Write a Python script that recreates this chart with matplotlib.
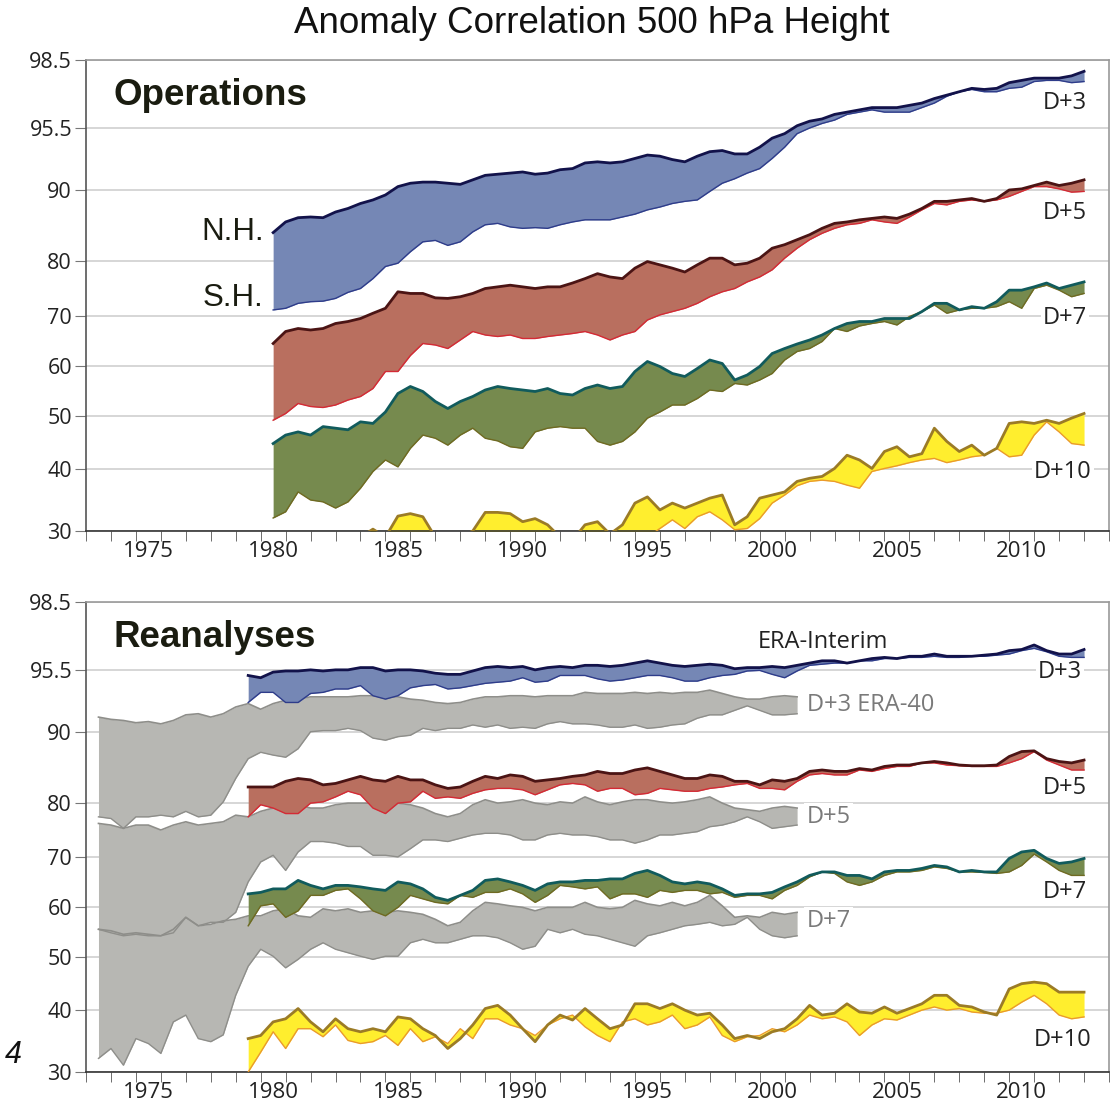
import numpy as np
import matplotlib
matplotlib.use("Agg")
import matplotlib.pyplot as plt

plt.rcParams["font.family"] = ["Open Sans", "DejaVu Sans"]
plt.rcParams["lines.solid_joinstyle"] = "round"

# half-year sample points
ops_years = np.arange(1980.0, 2013.0, 0.5)
era_years = np.arange(1979.0, 2013.0, 0.5)
e40_years = np.arange(1973.0, 2001.5, 0.5)

# ---- Operations (N.H. = upper edge, S.H. = lower edge) ----
ops_d3_nh = [84.0, 85.5, 86.1, 86.2, 86.1, 86.9, 87.4, 88.1, 88.6, 89.3,
             90.3, 90.6, 90.7, 90.7, 90.6, 90.5, 90.9, 91.3, 91.4, 91.5,
             91.6, 91.4, 91.5, 91.8, 91.9, 92.4, 92.5, 92.4, 92.5, 92.8,
             93.1, 93.0, 92.7, 92.5, 93.0, 93.4, 93.5, 93.2, 93.2, 93.8,
             94.6, 95.0, 95.6, 95.8, 95.9, 96.1, 96.2, 96.3, 96.4, 96.4,
             96.4, 96.5, 96.6, 96.8, 96.95, 97.1, 97.25, 97.2, 97.25, 97.5,
             97.6, 97.7, 97.7, 97.7, 97.8, 98.0]
ops_d3_sh = [71.1, 71.4, 72.3, 72.6, 72.7, 73.2, 74.3, 75.0, 76.8, 79.0,
             79.6, 81.3, 82.7, 82.9, 82.2, 82.7, 84.1, 85.1, 85.3, 84.8,
             84.6, 84.7, 84.6, 85.1, 85.5, 85.8, 85.8, 85.8, 86.2, 86.6,
             87.2, 87.6, 88.1, 88.4, 88.6, 89.8, 90.6, 91.0, 91.5, 91.9,
             92.8, 93.8, 95.0, 95.5, 95.7, 95.85, 96.1, 96.2, 96.3, 96.2,
             96.2, 96.2, 96.4, 96.6, 96.9, 97.1, 97.2, 97.1, 97.1, 97.25,
             97.3, 97.55, 97.6, 97.6, 97.5, 97.55]
ops_d5_nh = [64.5, 66.9, 67.5, 67.2, 67.5, 68.5, 68.9, 69.5, 70.5, 71.4,
             74.4, 74.1, 74.1, 73.3, 73.2, 73.5, 74.1, 75.0, 75.3, 75.6,
             75.3, 75.0, 75.3, 75.3, 76.0, 76.8, 77.7, 77.1, 76.8, 78.7,
             79.9, 79.3, 78.7, 78.0, 79.3, 80.4, 80.4, 79.3, 79.6, 80.4,
             81.8, 82.3, 83.0, 83.7, 84.6, 85.3, 85.5, 85.8, 86.0, 86.2,
             86.0, 86.6, 87.4, 88.4, 88.4, 88.6, 88.8, 88.4, 88.8, 90.0,
             90.1, 90.4, 90.7, 90.4, 90.6, 90.9]
ops_d5_sh = [49.2, 50.5, 52.5, 51.9, 51.7, 52.2, 53.2, 53.9, 55.5, 58.9,
             58.9, 62.1, 64.5, 64.2, 63.5, 65.2, 66.9, 66.2, 65.9, 66.2,
             65.5, 65.5, 65.9, 66.2, 66.5, 66.9, 66.2, 65.2, 66.2, 66.9,
             69.2, 70.2, 70.8, 71.4, 72.3, 73.5, 74.4, 75.0, 76.2, 77.1,
             78.4, 80.4, 81.8, 83.0, 83.9, 84.6, 85.1, 85.3, 85.8, 85.5,
             85.3, 86.2, 87.2, 88.1, 87.9, 88.4, 88.6, 88.4, 88.6, 89.1,
             89.8, 90.3, 90.3, 90.1, 89.7, 89.8]
ops_d7_nh = [44.8, 46.4, 47.0, 46.4, 48.0, 47.7, 47.4, 48.9, 48.6, 50.8,
             54.5, 55.9, 54.9, 52.9, 51.5, 52.9, 53.9, 55.2, 55.9, 55.5,
             55.2, 54.9, 55.5, 54.5, 54.2, 55.5, 56.2, 55.5, 55.9, 58.9,
             60.9, 59.9, 58.5, 57.9, 59.5, 61.2, 60.5, 57.2, 58.2, 59.9,
             62.5, 63.5, 64.4, 65.2, 66.2, 67.5, 68.5, 68.9, 68.9, 69.5,
             69.5, 69.5, 70.8, 72.3, 72.3, 71.1, 71.7, 71.4, 72.6, 74.7,
             74.7, 75.3, 76.0, 75.0, 75.6, 76.2]
ops_d7_sh = [32.1, 33.1, 36.3, 35.0, 34.7, 33.7, 34.7, 36.9, 39.6, 41.7,
             40.4, 43.9, 46.4, 45.8, 44.5, 46.4, 47.7, 45.8, 45.3, 44.2,
             43.9, 47.0, 47.7, 48.0, 47.7, 47.7, 45.2, 44.5, 45.2, 47.0,
             49.6, 50.8, 52.2, 52.2, 53.5, 55.2, 54.9, 56.5, 56.2, 57.2,
             58.5, 61.2, 62.9, 63.5, 64.9, 67.5, 66.9, 68.0, 68.5, 68.9,
             68.2, 69.9, 70.8, 72.0, 70.5, 71.1, 71.4, 71.4, 71.7, 72.6,
             71.4, 75.0, 75.6, 74.7, 73.5, 74.1]
ops_d10_nh = [27.0, 27.0, 26.0, 27.0, 28.0, 27.0, 28.0, 29.0, 30.3, 29.0,
              32.4, 32.8, 32.3, 29.0, 29.5, 29.0, 30.0, 33.0, 33.0, 32.8,
              31.5, 32.0, 31.0, 29.0, 28.5, 31.0, 31.5, 29.5, 31.0, 34.5,
              35.5, 33.4, 34.5, 33.7, 34.5, 35.3, 35.8, 31.0, 32.3, 35.3,
              35.8, 36.3, 38.0, 38.5, 38.8, 40.1, 42.6, 41.7, 40.1, 43.3,
              44.2, 42.3, 42.9, 47.7, 45.2, 43.3, 44.5, 42.6, 43.9, 48.6,
              48.9, 48.6, 49.2, 48.6, 49.6, 50.5]
ops_d10_sh = [22.0, 22.0, 23.0, 22.0, 23.0, 24.0, 23.0, 24.0, 25.0, 24.0,
              25.0, 25.0, 24.0, 25.0, 25.0, 26.0, 25.0, 26.0, 26.0, 26.0,
              26.0, 26.0, 25.0, 26.0, 26.0, 27.0, 26.0, 26.0, 27.0, 28.0,
              29.0, 30.4, 31.8, 30.4, 32.3, 33.1, 31.8, 30.2, 30.4, 32.0,
              34.5, 35.8, 37.3, 38.0, 38.2, 38.0, 37.4, 36.9, 39.6, 40.1,
              40.6, 41.2, 41.7, 42.0, 41.2, 41.7, 42.3, 42.6, 43.9, 42.3,
              42.6, 46.4, 48.9, 47.0, 44.8, 44.5]

# ---- ERA-Interim reanalysis ----
era_d3_nh = [95.0, 94.8, 95.3, 95.4, 95.4, 95.5, 95.4, 95.5, 95.5, 95.6,
             95.6, 95.4, 95.5, 95.5, 95.4, 95.2, 95.1, 95.1, 95.4, 95.6,
             95.65, 95.6, 95.65, 95.5, 95.6, 95.65, 95.6, 95.7, 95.7, 95.65,
             95.7, 95.8, 95.9, 95.8, 95.7, 95.65, 95.7, 95.75, 95.7, 95.55,
             95.6, 95.6, 95.65, 95.6, 95.7, 95.8, 95.9, 95.9, 95.8, 95.9,
             96.0, 96.05, 96.0, 96.1, 96.1, 96.2, 96.1, 96.1, 96.1, 96.15,
             96.2, 96.35, 96.4, 96.6, 96.35, 96.2, 96.2, 96.4]
era_d3_sh = [92.6, 93.5, 93.5, 92.6, 92.6, 93.4, 93.5, 93.8, 93.8, 94.1,
             93.2, 92.9, 93.2, 93.9, 94.1, 94.2, 93.8, 93.9, 94.1, 94.3,
             94.4, 94.5, 94.8, 94.4, 94.5, 95.0, 95.0, 95.0, 94.7, 94.5,
             94.6, 94.8, 95.0, 95.0, 94.8, 94.5, 94.5, 94.8, 95.0, 95.1,
             95.4, 95.45, 95.1, 94.8, 95.4, 95.7, 95.75, 95.8, 95.8, 95.9,
             95.9, 96.0, 96.0, 96.05, 96.05, 96.1, 96.05, 96.05, 96.1, 96.1,
             96.15, 96.2, 96.35, 96.45, 96.3, 96.1, 96.05, 96.05]
era_d5_nh = [82.2, 82.2, 82.2, 83.0, 83.4, 83.2, 82.5, 82.7, 83.2, 83.7,
             83.2, 83.0, 83.7, 83.2, 83.2, 82.5, 82.0, 82.2, 83.0, 83.7,
             83.4, 83.9, 83.7, 83.0, 83.2, 83.4, 83.7, 83.9, 84.4, 84.1,
             84.1, 84.6, 84.9, 84.4, 83.9, 83.4, 83.4, 83.9, 83.7, 83.0,
             83.0, 82.5, 83.2, 83.0, 83.4, 84.4, 84.6, 84.4, 84.4, 84.8,
             84.6, 85.1, 85.3, 85.3, 85.6, 85.8, 85.6, 85.3, 85.2, 85.2,
             85.3, 86.5, 87.2, 87.3, 86.2, 85.8, 85.6, 86.0]
era_d5_sh = [77.4, 79.6, 79.0, 78.0, 78.0, 79.9, 80.1, 80.8, 81.6, 81.1,
             79.0, 78.0, 79.9, 80.1, 81.6, 80.6, 80.8, 80.6, 81.3, 81.8,
             82.0, 82.0, 81.8, 81.1, 81.8, 82.5, 82.7, 82.5, 81.6, 82.0,
             82.0, 81.1, 81.3, 82.0, 81.8, 81.6, 81.6, 82.0, 82.2, 82.5,
             82.7, 82.0, 82.0, 81.8, 83.0, 83.9, 84.1, 83.9, 83.9, 84.6,
             84.4, 84.8, 85.1, 85.1, 85.6, 85.6, 85.3, 85.2, 85.1, 85.1,
             85.1, 85.6, 86.2, 87.2, 86.0, 85.3, 84.6, 84.6]
era_d7_nh = [62.7, 63.0, 63.7, 63.7, 65.4, 64.4, 63.7, 64.4, 64.4, 64.1,
             63.7, 63.4, 65.1, 64.7, 63.7, 62.0, 61.4, 62.4, 63.4, 65.4,
             65.7, 65.1, 64.4, 63.4, 64.7, 65.1, 65.1, 65.4, 65.4, 65.7,
             65.7, 66.8, 67.4, 66.4, 65.1, 64.7, 65.1, 64.7, 63.7, 62.4,
             62.7, 62.7, 63.0, 64.1, 65.1, 66.4, 67.1, 67.1, 66.4, 66.4,
             65.7, 67.1, 67.4, 67.4, 67.8, 68.4, 68.1, 67.1, 67.4, 67.1,
             67.1, 69.8, 71.0, 71.3, 69.8, 68.8, 69.1, 69.8]
era_d7_sh = [56.3, 60.3, 60.7, 58.0, 59.3, 62.4, 62.4, 63.4, 63.7, 61.7,
             59.3, 58.3, 60.0, 62.4, 61.7, 61.0, 60.7, 62.4, 62.0, 63.0,
             63.0, 63.7, 62.7, 61.0, 62.4, 64.4, 64.1, 63.7, 64.1, 61.7,
             62.7, 62.7, 62.0, 63.4, 63.0, 63.4, 63.4, 62.7, 63.0, 62.0,
             62.4, 62.4, 61.7, 63.4, 64.4, 66.1, 67.1, 66.8, 65.1, 64.4,
             65.1, 66.4, 67.1, 67.1, 67.4, 68.1, 67.8, 67.1, 67.1, 67.0,
             66.8, 67.1, 68.4, 70.6, 69.1, 67.4, 66.4, 66.4]
era_d10_nh = [35.4, 35.9, 38.1, 38.6, 40.3, 38.1, 36.5, 38.6, 37.0, 36.5,
              37.0, 36.5, 38.9, 38.6, 37.0, 35.9, 33.8, 35.4, 37.6, 40.3,
              40.9, 39.2, 37.0, 34.9, 37.6, 39.2, 38.4, 40.3, 38.6, 37.0,
              37.6, 41.2, 41.2, 40.3, 41.2, 40.0, 39.2, 39.5, 37.6, 35.4,
              35.9, 35.4, 36.5, 37.0, 38.6, 40.9, 39.2, 39.5, 41.2, 39.7,
              39.5, 40.6, 39.5, 40.3, 41.2, 42.8, 42.8, 40.9, 40.6, 39.7,
              39.2, 44.0, 45.0, 45.3, 45.0, 43.4, 43.4, 43.4]
era_d10_sh = [30.0, 33.2, 36.5, 33.8, 37.0, 37.0, 35.7, 37.6, 35.1, 34.6,
              34.9, 35.9, 34.3, 37.0, 34.9, 35.7, 34.6, 37.0, 35.4, 38.6,
              38.6, 37.6, 37.0, 35.9, 37.6, 38.6, 39.2, 37.3, 35.9, 34.9,
              38.1, 38.6, 37.6, 38.1, 39.2, 37.0, 37.6, 38.9, 35.9, 34.9,
              35.7, 35.9, 37.0, 36.5, 37.6, 39.2, 38.6, 38.9, 38.1, 35.9,
              37.6, 38.6, 38.4, 39.2, 40.0, 40.6, 40.0, 40.3, 39.7, 39.5,
              39.5, 40.0, 41.5, 42.8, 41.2, 39.2, 38.6, 38.9]

# ---- ERA-40 reanalysis (grey bands) ----
e40_d3_hi = [91.3, 91.1, 91.0, 90.8, 90.9, 90.7, 91.0, 91.5, 91.6, 91.3,
             91.6, 92.2, 92.5, 92.0, 92.5, 92.8, 92.9, 93.1, 93.1, 93.1,
             93.1, 93.2, 93.2, 93.1, 93.1, 92.9, 92.8, 92.6, 92.5, 92.6,
             92.9, 93.1, 93.1, 93.2, 93.2, 93.1, 93.2, 93.2, 93.2, 93.5,
             93.4, 93.4, 93.4, 93.5, 93.4, 93.5, 93.4, 93.5, 93.5, 93.7,
             93.4, 93.1, 92.9, 92.9, 93.1, 93.2, 93.1]
e40_d3_lo = [77.4, 77.1, 75.3, 77.4, 77.4, 77.7, 77.4, 78.4, 77.4, 77.7,
             80.1, 83.4, 86.2, 87.1, 86.7, 86.4, 87.6, 90.0, 90.1, 90.1,
             90.3, 90.1, 89.1, 88.8, 89.3, 89.5, 90.3, 90.1, 90.3, 90.3,
             90.6, 90.4, 90.6, 90.3, 90.4, 90.3, 90.7, 90.9, 90.7, 90.7,
             90.6, 90.4, 90.4, 90.6, 90.3, 90.4, 90.6, 90.7, 91.2, 91.5,
             91.5, 91.9, 92.3, 91.9, 91.5, 91.5, 91.6]
e40_d5_hi = [76.2, 75.9, 75.3, 75.9, 75.9, 75.0, 75.9, 76.5, 75.9, 76.2,
             76.5, 77.7, 77.4, 78.4, 79.0, 79.3, 79.6, 79.0, 79.0, 79.6,
             79.9, 79.9, 79.9, 79.6, 79.9, 79.6, 79.0, 78.0, 77.4, 78.0,
             79.6, 80.4, 79.9, 80.1, 80.4, 79.9, 79.6, 80.1, 79.9, 80.8,
             80.1, 79.6, 80.1, 80.4, 80.4, 80.1, 79.9, 80.1, 80.4, 80.8,
             79.9, 79.0, 78.7, 78.4, 79.0, 79.3, 79.0]
e40_d5_lo = [55.6, 54.9, 54.3, 54.6, 54.3, 54.3, 54.9, 58.0, 56.3, 57.0,
             57.0, 59.0, 65.1, 69.1, 70.4, 67.4, 71.0, 72.9, 72.9, 72.6,
             72.0, 72.0, 70.4, 70.4, 70.1, 71.6, 73.2, 73.2, 72.9, 73.5,
             74.1, 74.4, 74.4, 74.1, 73.2, 73.2, 74.1, 74.4, 74.1, 74.1,
             73.8, 73.2, 73.2, 72.6, 73.2, 74.1, 74.1, 74.4, 74.7, 75.6,
             75.9, 76.5, 77.4, 76.5, 75.3, 75.6, 75.9]
e40_d7_hi = [55.6, 55.3, 54.6, 54.9, 54.6, 54.3, 55.6, 58.0, 56.3, 56.6,
             57.3, 57.6, 58.3, 58.3, 59.3, 59.7, 58.3, 58.0, 59.7, 59.3,
             59.7, 59.0, 59.3, 59.0, 59.3, 59.0, 58.6, 57.6, 56.3, 57.0,
             59.3, 61.0, 60.7, 60.3, 60.0, 59.3, 60.0, 60.0, 60.0, 61.0,
             60.0, 59.7, 60.0, 61.4, 60.7, 60.3, 61.0, 60.3, 61.0, 62.4,
             60.3, 58.0, 58.3, 58.0, 59.0, 58.6, 59.0]
e40_d7_lo = [32.2, 33.8, 31.1, 35.4, 34.6, 33.0, 38.1, 39.2, 35.4, 34.9,
             36.0, 42.8, 48.3, 51.6, 50.2, 48.0, 49.6, 51.6, 52.9, 51.6,
             50.9, 50.2, 49.6, 50.2, 50.2, 52.9, 53.6, 52.9, 52.9, 53.6,
             54.3, 54.3, 53.9, 52.9, 51.6, 52.2, 55.6, 54.9, 55.6, 54.6,
             54.3, 53.6, 52.9, 52.2, 54.3, 54.9, 55.6, 56.3, 56.6, 57.0,
             56.3, 56.6, 58.0, 55.6, 54.3, 53.9, 54.3]

# y axis is stretched non-linearly (knots = tick positions in pixels)
y_ticks = [30, 40, 50, 60, 70, 80, 90, 95.5, 98.5]
y_ticklabels = ["30", "40", "50", "60", "70", "80", "90", "95.5", "98.5"]
KNOT_VAL = [0, 30, 40, 50, 60, 70, 80, 90, 95.5, 98.5, 100]
KNOT_POS = [-186, 0, 62, 115, 165, 215, 270, 341, 403, 471, 505]


def fwd(v):
    return np.interp(v, KNOT_VAL, KNOT_POS)


def inv(p):
    return np.interp(p, KNOT_POS, KNOT_VAL)


# colours: fill, upper line, lower line
STYLE = {
    "d3": ("#7587b5", "#12124a", "#2e3c8a"),
    "d5": ("#b96f5f", "#4b1414", "#d42a35"),
    "d7": ("#768a4e", "#115b5c", "#6f6a22"),
    "d10": ("#ffee2e", "#9b7b26", "#ea9a2c"),
}
GREY_FILL = "#b7b7b3"
GREY_LINE = "#8e8e8a"


def band(ax, x, hi, lo, key):
    fill, c_hi, c_lo = STYLE[key]
    ax.fill_between(x, lo, hi, color=fill, lw=0, zorder=2)
    ax.plot(x, lo, color=c_lo, lw=1.0, zorder=3)
    ax.plot(x, hi, color=c_hi, lw=2.0, zorder=4)


def grey_band(ax, x, hi, lo):
    ax.fill_between(x, lo, hi, color=GREY_FILL, lw=0, zorder=1.6)
    ax.plot(x, lo, color=GREY_LINE, lw=1.0, zorder=1.7)
    ax.plot(x, hi, color=GREY_LINE, lw=1.2, zorder=1.7)


def style_axes(ax):
    ax.set_yscale("function", functions=(fwd, inv))
    ax.set_ylim(30, 98.5)
    ax.set_xlim(1972.5, 2013.46)
    ax.set_yticks(y_ticks)
    ax.set_yticklabels(y_ticklabels)
    ax.yaxis.set_minor_locator(plt.NullLocator())
    ax.tick_params(axis="y", length=8, color="#777777", labelsize=15.5,
                   labelcolor="#222222", pad=2)
    ax.set_xticks(np.arange(1975, 2011, 5))
    ax.set_xticks(np.arange(1972.5, 2014, 1.0), minor=True)
    ax.tick_params(axis="x", which="major", length=0, labelsize=16,
                   labelcolor="#222222", pad=7)
    ax.tick_params(axis="x", which="minor", length=7, color="#555555")
    ax.grid(axis="y", color="#d6d6d6", lw=1.4)
    ax.set_axisbelow(True)
    for side in ("top", "right"):
        ax.spines[side].set_color("#9a9a9a")
    ax.spines["left"].set_color("#555555")
    ax.spines["bottom"].set_color("#333333")
    for sp in ax.spines.values():
        sp.set_linewidth(1.2)


def label(ax, x, y, s, color="#222222", ha="center"):
    ax.text(x, y, s, ha=ha, va="center", fontsize=17, color=color, zorder=1,
            bbox=dict(facecolor="white", edgecolor="none", pad=1.5))


fig = plt.figure(figsize=(11.18, 11.05), dpi=100)
ax1 = fig.add_axes([86 / 1118, 1 - 531 / 1105, 1023 / 1118, 471 / 1105])
ax2 = fig.add_axes([86 / 1118, 1 - 1072 / 1105, 1023 / 1118, 470 / 1105])

# ---- top: operations ----
style_axes(ax1)
band(ax1, ops_years, ops_d3_nh, ops_d3_sh, "d3")
band(ax1, ops_years, ops_d5_nh, ops_d5_sh, "d5")
band(ax1, ops_years, ops_d7_nh, ops_d7_sh, "d7")
band(ax1, ops_years, ops_d10_nh, ops_d10_sh, "d10")
label(ax1, 2011.74, 96.6, "D+3")
label(ax1, 2011.74, 86.8, "D+5")
label(ax1, 2011.74, 69.6, "D+7")
label(ax1, 2011.66, 39.5, "D+10")
ax1.text(0.0264, 0.9236, "Operations", transform=ax1.transAxes, ha="left",
         va="center", fontsize=26.5, fontweight="bold", color="#1a1c10",
         family="Liberation Sans")
ax1.text(1979.62, 84.1, "N.H.", ha="right", va="center", fontsize=22.5,
         color="#1a1c10", family="Liberation Sans")
ax1.text(1979.62, 73.3, "S.H.", ha="right", va="center", fontsize=22.5,
         color="#1a1c10", family="Liberation Sans")

# ---- bottom: reanalyses ----
style_axes(ax2)
grey_band(ax2, e40_years, e40_d3_hi, e40_d3_lo)
grey_band(ax2, e40_years, e40_d5_hi, e40_d5_lo)
grey_band(ax2, e40_years, e40_d7_hi, e40_d7_lo)
band(ax2, era_years, era_d3_nh, era_d3_sh, "d3")
band(ax2, era_years, era_d5_nh, era_d5_sh, "d5")
band(ax2, era_years, era_d7_nh, era_d7_sh, "d7")
band(ax2, era_years, era_d10_nh, era_d10_sh, "d10")
label(ax2, 1999.42, 96.75, "ERA-Interim", ha="left")
label(ax2, 2011.54, 95.35, "D+3")
label(ax2, 2001.38, 92.4, "D+3 ERA-40", color="#7a7a7a", ha="left")
label(ax2, 2011.74, 82.1, "D+5")
label(ax2, 2001.38, 77.3, "D+5", color="#7a7a7a", ha="left")
label(ax2, 2011.74, 63.1, "D+7")
label(ax2, 2001.38, 57.2, "D+7", color="#7a7a7a", ha="left")
label(ax2, 2011.66, 35.2, "D+10")
ax2.text(0.0264, 0.9255, "Reanalyses", transform=ax2.transAxes, ha="left",
         va="center", fontsize=26.5, fontweight="bold", color="#1a1c10",
         family="Liberation Sans")

fig.text(0.5295, 0.979, "Anomaly Correlation 500 hPa Height", ha="center",
         va="center", fontsize=26.5, color="#111111", family="Liberation Sans")
fig.text(0.004, 0.0452, "4", ha="left", va="center", fontsize=22,
         style="italic", color="#111111", family="Liberation Sans")

fig.savefig("out.png", dpi=100)
